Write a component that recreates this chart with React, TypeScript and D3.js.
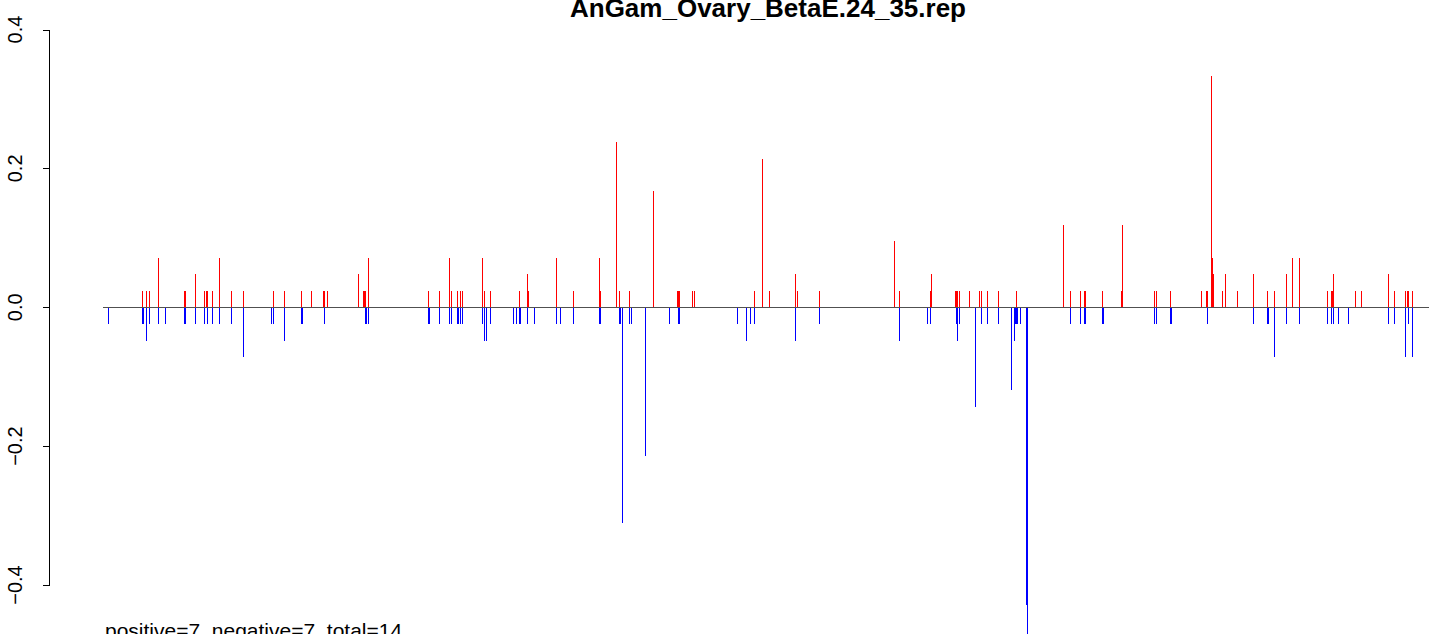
import React, { useRef, useEffect } from 'react';
import * as d3 from 'd3';

// positions are bin indexes along the sequence, values are scores
const positivePositions = [
  39, 43, 46, 55, 81, 82, 92, 101, 103, 104, 109, 116, 128, 140, 170, 181, 198, 208, 220, 221,
  224, 255, 260, 261, 262, 265, 325, 336, 346, 348, 354, 357, 359, 379, 380, 381, 382, 387, 416,
  424, 425, 453, 470, 496, 497, 513, 516, 527, 550, 574, 575, 576, 590, 591, 651, 659, 666, 692,
  694, 716, 792, 796, 827, 828, 852, 853, 854, 856, 866, 877, 878, 884, 895, 913, 960, 967, 977,
  981, 982, 999, 1018, 1019, 1051, 1052, 1053, 1067, 1098, 1103, 1104, 1108, 1109, 1110, 1119,
  1122, 1134, 1150, 1164, 1171, 1183, 1189, 1196, 1224, 1228, 1229, 1230, 1252, 1258, 1285, 1291,
  1302, 1304, 1305, 1309,
];
const positiveValues = [
  0.024, 0.024, 0.024, 0.071, 0.024, 0.024, 0.048, 0.024, 0.024, 0.024, 0.024, 0.071, 0.024, 0.024,
  0.024, 0.024, 0.024, 0.024, 0.024, 0.024, 0.024, 0.048, 0.024, 0.024, 0.024, 0.071, 0.024, 0.024,
  0.071, 0.024, 0.024, 0.024, 0.024, 0.071, 0.024, 0.024, 0.024, 0.024, 0.024, 0.048, 0.024, 0.071,
  0.024, 0.071, 0.024, 0.238, 0.024, 0.024, 0.167, 0.024, 0.024, 0.024, 0.024, 0.024, 0.024, 0.214,
  0.024, 0.048, 0.024, 0.024, 0.095, 0.024, 0.024, 0.048, 0.024, 0.024, 0.024, 0.024, 0.024, 0.024,
  0.024, 0.024, 0.024, 0.024, 0.119, 0.024, 0.024, 0.024, 0.024, 0.024, 0.024, 0.119, 0.024, 0.024,
  0.024, 0.024, 0.024, 0.024, 0.024, 0.333, 0.071, 0.048, 0.024, 0.048, 0.024, 0.048, 0.024, 0.024,
  0.048, 0.071, 0.071, 0.024, 0.024, 0.024, 0.048, 0.024, 0.024, 0.048, 0.024, 0.024, 0.024, 0.024,
  0.024,
];

const negativePositions = [
  5, 39, 40, 43, 46, 55, 62, 81, 82, 92, 101, 104, 109, 116, 128, 140, 168, 170, 181, 198, 199,
  221, 262, 263, 265, 325, 326, 336, 346, 348, 354, 355, 357, 359, 379, 380, 382, 383, 387, 410,
  413, 416, 417, 424, 431, 453, 457, 470, 496, 497, 516, 517, 519, 527, 528, 543, 566, 575, 576,
  634, 644, 647, 651, 692, 716, 796, 824, 827, 853, 854, 856, 872, 878, 884, 895, 908, 911, 912,
  913, 914, 917, 923, 924, 967, 977, 981, 982, 999, 1000, 1051, 1052, 1053, 1067, 1068, 1104, 1150,
  1164, 1165, 1171, 1183, 1196, 1224, 1228, 1230, 1235, 1246, 1285, 1291, 1302, 1305, 1309,
];
const negativeValues = [
  -0.024, -0.024, -0.024, -0.048, -0.024, -0.024, -0.024, -0.024, -0.024, -0.024, -0.024, -0.024,
  -0.024, -0.024, -0.024, -0.071, -0.024, -0.024, -0.048, -0.024, -0.024, -0.024, -0.024, -0.024,
  -0.024, -0.024, -0.024, -0.024, -0.024, -0.024, -0.024, -0.024, -0.024, -0.024, -0.024, -0.024,
  -0.048, -0.048, -0.024, -0.024, -0.024, -0.024, -0.024, -0.024, -0.024, -0.024, -0.024, -0.024,
  -0.024, -0.024, -0.024, -0.024, -0.31, -0.024, -0.024, -0.214, -0.024, -0.024, -0.024, -0.024,
  -0.048, -0.024, -0.024, -0.048, -0.024, -0.048, -0.024, -0.024, -0.024, -0.048, -0.024, -0.143,
  -0.024, -0.024, -0.024, -0.119, -0.048, -0.024, -0.024, -0.024, -0.024, -0.429, -0.476, -0.024,
  -0.024, -0.024, -0.024, -0.024, -0.024, -0.024, -0.024, -0.024, -0.024, -0.024, -0.024, -0.024,
  -0.024, -0.024, -0.071, -0.024, -0.024, -0.024, -0.024, -0.024, -0.024, -0.024, -0.024, -0.024,
  -0.071, -0.024, -0.071,
];

const yTicks = [-0.4, -0.2, 0.0, 0.2, 0.4];
const chartTitle = 'AnGam_Ovary_BetaE.24_35.rep';
const footNote = 'positive=7, negative=7, total=14';

const WIDTH = 1429;
const HEIGHT = 634;

const App: React.FC = () => {
  const svgRef = useRef<SVGSVGElement>(null);

  useEffect(() => {
    document.body.style.margin = '0';
    if (!svgRef.current) return;

    d3.select(svgRef.current).selectAll('*').remove();
    const svg = d3.select(svgRef.current);

    const x = d3.scaleLinear().domain([0, 1326]).range([103, 1429]);
    const y = d3.scaleLinear().domain([-0.4, 0.4]).range([585, 29.5]);
    const px = (p: number) => Math.floor(x(p)) + 0.5;

    const bars = [
      ...positivePositions.map((p, i) => ({ p, v: positiveValues[i], color: '#ff0000' })),
      ...negativePositions.map((p, i) => ({ p, v: negativeValues[i], color: '#0000ff' })),
    ];

    svg
      .append('g')
      .attr('shape-rendering', 'crispEdges')
      .selectAll('line')
      .data(bars)
      .enter()
      .append('line')
      .attr('x1', (d) => px(d.p))
      .attr('x2', (d) => px(d.p))
      .attr('y1', y(0))
      .attr('y2', (d) => y(d.v))
      .attr('stroke', (d) => d.color)
      .attr('stroke-width', 1);

    // zero line
    svg
      .append('line')
      .attr('x1', x(0))
      .attr('x2', x(1326))
      .attr('y1', Math.floor(y(0)) + 0.5)
      .attr('y2', Math.floor(y(0)) + 0.5)
      .attr('stroke', '#505050')
      .attr('stroke-width', 1)
      .attr('shape-rendering', 'crispEdges');

    // y axis, R style
    const axisX = 49.5;
    const axis = svg.append('g').attr('shape-rendering', 'crispEdges');
    axis
      .append('line')
      .attr('x1', axisX)
      .attr('x2', axisX)
      .attr('y1', y(-0.4))
      .attr('y2', y(0.4))
      .attr('stroke', '#000');
    axis
      .selectAll('line.tick')
      .data(yTicks)
      .enter()
      .append('line')
      .attr('class', 'tick')
      .attr('x1', axisX - 7)
      .attr('x2', axisX)
      .attr('y1', (d) => Math.round(y(d)) + 0.5)
      .attr('y2', (d) => Math.round(y(d)) + 0.5)
      .attr('stroke', '#000');
    svg
      .append('g')
      .selectAll('text')
      .data(yTicks)
      .enter()
      .append('text')
      .attr('transform', (d) => `translate(22, ${y(d)}) rotate(-90)`)
      .attr('text-anchor', 'middle')
      .style('font-family', '"Liberation Sans", Arial, sans-serif')
      .style('font-size', '20px')
      .attr('fill', '#000')
      .text((d) => (d === 0 ? '0.0' : d3.format('.1f')(d).replace('-', '\u2212')));

    svg
      .append('text')
      .attr('x', 768)
      .attr('y', 17)
      .attr('text-anchor', 'middle')
      .style('font-family', '"Liberation Sans", Arial, sans-serif')
      .style('font-size', '26px')
      .style('font-weight', 'bold')
      .text(chartTitle);

    svg
      .append('text')
      .attr('x', 105)
      .attr('y', 638)
      .style('font-family', '"Liberation Sans", Arial, sans-serif')
      .style('font-size', '21px')
      .text(footNote);
  }, []);

  return (
    <div style={{ width: WIDTH, height: HEIGHT, overflow: 'hidden', background: '#fff' }}>
      <svg ref={svgRef} width={WIDTH} height={HEIGHT} style={{ display: 'block' }} />
    </div>
  );
};

export default App;
